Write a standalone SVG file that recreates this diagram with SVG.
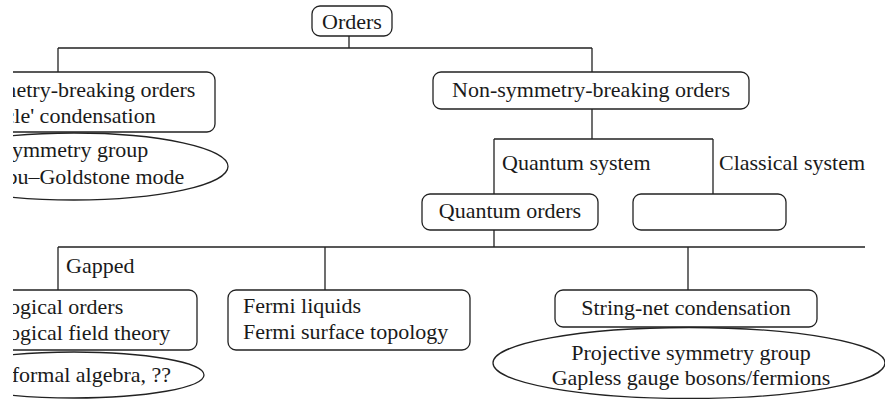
<svg xmlns="http://www.w3.org/2000/svg" width="885" height="399" viewBox="0 0 885 399">
<style>
.box{fill:#fff;stroke:#222;stroke-width:1.3}
.ell{fill:#fff;stroke:#222;stroke-width:1.3}
.ln{fill:none;stroke:#222;stroke-width:1.3}
.t{font-family:'Liberation Serif','DejaVu Serif',serif;font-size:22px;fill:#1a1a1a}
.c{text-anchor:middle}
</style>
<defs>
<clipPath id="clip"><rect x="13" y="0" width="872" height="399"/></clipPath>
</defs>
<rect width="885" height="399" fill="#fff"/>
<g clip-path="url(#clip)">
<g id="connectors">
<path class="ln" d="M349,36 V48 M58,48 H592 M58,48 V72 M592,48 V72"/>
<path class="ln" d="M592,109 V139 M494,139 H713 M494,139 V194 M713,139 V194"/>
<path class="ln" d="M494,230 V247 M58,247 H865 M58,247 V290 M325,247 V290 M688,247 V290"/>
</g>
<g class="t" font-family="Liberation Serif, serif">
<g id="orders">
<rect class="box" x="312" y="6" width="80" height="30" rx="8"/>
<text class="c" x="352" y="29">Orders</text>
</g>
<g id="symmetry-breaking">
<rect class="box" x="-56" y="72" width="271" height="60" rx="8"/>
<text x="-41" y="97">Symmetry-breaking orders</text>
<text x="-41" y="123">'Particle' condensation</text>
</g>
<g id="symmetry-ellipse">
<ellipse class="ell" cx="74" cy="166.5" rx="154" ry="33.5"/>
<text class="c" x="74" y="157">Symmetry group</text>
<text class="c" x="74" y="184">Nambu–Goldstone mode</text>
</g>
<g id="non-symmetry-breaking">
<rect class="box" x="433" y="72" width="316" height="37" rx="8"/>
<text class="c" x="591" y="97">Non-symmetry-breaking orders</text>
</g>
<g id="labels-system">
<text x="502" y="170">Quantum system</text>
<text x="719" y="170">Classical system</text>
</g>
<g id="quantum-orders">
<rect class="box" x="422" y="194" width="176" height="36" rx="8"/>
<text class="c" x="510" y="218">Quantum orders</text>
</g>
<g id="classical-orders">
<rect class="box" x="633" y="194" width="153" height="36" rx="8"/>
</g>
<g id="label-gapped">
<text x="66" y="273">Gapped</text>
</g>
<g id="topological">
<rect class="box" x="-57" y="290" width="254" height="60" rx="8"/>
<text x="-42" y="314">Topological orders</text>
<text x="-42" y="340">Topological field theory</text>
</g>
<g id="conformal-ellipse">
<ellipse class="ell" cx="74" cy="375" rx="130" ry="23"/>
<text class="c" x="73" y="382">Conformal algebra, ??</text>
</g>
<g id="fermi">
<rect class="box" x="228" y="290" width="242" height="60" rx="8"/>
<text x="243" y="313">Fermi liquids</text>
<text x="243" y="339">Fermi surface topology</text>
</g>
<g id="string-net">
<rect class="box" x="555" y="290" width="262" height="37" rx="8"/>
<text class="c" x="686" y="315">String-net condensation</text>
</g>
<g id="string-net-ellipse">
<ellipse class="ell" cx="689" cy="363" rx="196" ry="35.5"/>
<text class="c" x="691" y="360">Projective symmetry group</text>
<text class="c" x="691" y="385">Gapless gauge bosons/fermions</text>
</g>
</g>
</g>
</svg>
